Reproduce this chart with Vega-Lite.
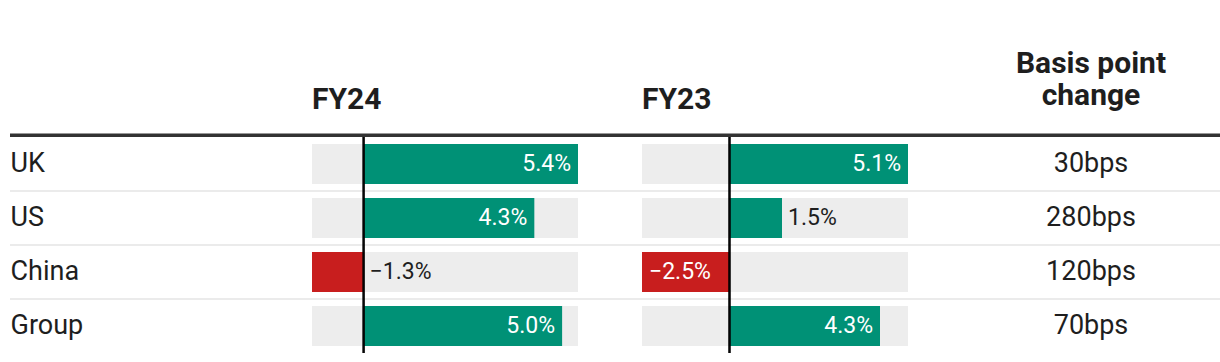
{
  "$schema": "https://vega.github.io/schema/vega-lite/v6.json",
  "background": "white",
  "padding": {"left": 8, "top": 48, "right": 0, "bottom": 0},
  "spacing": 0,
  "bounds": "flush",
  "config": {
    "view": {"stroke": null},
    "font": "Roboto",
    "title": {"font": "Roboto", "fontSize": 30, "fontWeight": "bold", "color": "#1e1e1e", "anchor": "start", "baseline": "alphabetic", "offset": 19, "frame": "group"},
    "text": {"font": "Roboto"}
  },
  "datasets": {
    "rows": [
      {"country": "UK", "fy24": 0.054, "fy23": 0.051, "bps": 30},
      {"country": "US", "fy24": 0.043, "fy23": 0.015, "bps": 280},
      {"country": "China", "fy24": -0.013, "fy23": -0.025, "bps": 120},
      {"country": "Group", "fy24": 0.050, "fy23": 0.043, "bps": 70}
    ]
  },
  "data": {"name": "rows"},
  "hconcat": [
    {
      "width": 302, "height": 216,
      "encoding": {
        "y": {"field": "country", "type": "nominal", "bandPosition": 0,
          "scale": {"domain": ["UK", "US", "China", "Group"], "paddingInner": 0.26, "paddingOuter": 0.13},
          "axis": {"orient": "left", "title": null, "domain": false, "ticks": false, "tickSize": 0, "labelPadding": 0, "labelAlign": "left", "labelBaseline": "middle", "labelFont": "Roboto", "labelFontSize": 27, "labelColor": "#1e1e1e", "labelLimit": 300, "grid": false}}
      },
      "layer": [
        {"transform": [{"filter": "datum.country === 'UK'"}], "mark": {"type": "rule", "color": "#333333", "strokeWidth": 3.5, "yOffset": -8.75}},
        {"transform": [{"filter": "datum.country !== 'UK'"}], "mark": {"type": "rule", "color": "#ebebeb", "strokeWidth": 2, "yOffset": -7}}
      ]
    },
    {
      "width": 266, "height": 216,
      "title": {"text": "FY24"},
      "layer": [
        {
          "transform": [{"joinaggregate": [{"op": "min", "field": "fy24", "as": "lo"}, {"op": "max", "field": "fy24", "as": "hi"}]}],
          "mark": {"type": "bar", "color": "#ededed"},
          "encoding": {
            "x": {"field": "lo", "type": "quantitative", "scale": {"nice": false, "zero": false}, "axis": null},
            "x2": {"field": "hi"},
            "y": {"field": "country", "type": "nominal", "scale": {"domain": ["UK", "US", "China", "Group"], "paddingInner": 0.26, "paddingOuter": 0.13}, "axis": null}
          }
        },
        {
          "mark": {"type": "bar"},
          "encoding": {
            "x": {"field": "fy24", "type": "quantitative"},
            "x2": {"datum": 0},
            "y": {"field": "country", "type": "nominal"},
            "color": {"condition": {"test": "datum.fy24 < 0", "value": "#c81e1e"}, "value": "#009176"}
          }
        },
        {"transform": [{"filter": "datum.country === 'UK'"}], "mark": {"type": "rule", "color": "#333333", "strokeWidth": 3.5, "yOffset": -8.75}, "encoding": {"y": {"field": "country", "type": "nominal", "bandPosition": 0}}},
        {"transform": [{"filter": "datum.country !== 'UK'"}], "mark": {"type": "rule", "color": "#ebebeb", "strokeWidth": 2, "yOffset": -7}, "encoding": {"y": {"field": "country", "type": "nominal", "bandPosition": 0}}},
        {"mark": {"type": "rule", "color": "black", "opacity": 0.6, "strokeWidth": 2}, "encoding": {"x": {"datum": 0}}},
        {
          "transform": [{"filter": "datum.fy24 >= 0.02"}],
          "mark": {"type": "text", "align": "right", "dx": -7, "fontSize": 23, "color": "white"},
          "encoding": {"x": {"field": "fy24", "type": "quantitative"}, "y": {"field": "country", "type": "nominal"}, "text": {"field": "fy24", "type": "quantitative", "format": ".1%"}}
        },
        {
          "transform": [{"filter": "datum.fy24 >= 0 && datum.fy24 < 0.02"}],
          "mark": {"type": "text", "align": "left", "dx": 6, "fontSize": 23, "color": "#1e1e1e"},
          "encoding": {"x": {"field": "fy24", "type": "quantitative"}, "y": {"field": "country", "type": "nominal"}, "text": {"field": "fy24", "type": "quantitative", "format": ".1%"}}
        },
        {
          "transform": [{"filter": "datum.fy24 < 0 && datum.fy24 > -0.02"}],
          "mark": {"type": "text", "align": "left", "dx": 6, "fontSize": 23, "color": "#1e1e1e"},
          "encoding": {"x": {"datum": 0}, "y": {"field": "country", "type": "nominal"}, "text": {"field": "fy24", "type": "quantitative", "format": ".1%"}}
        },
        {
          "transform": [{"filter": "datum.fy24 <= -0.02"}],
          "mark": {"type": "text", "align": "left", "dx": 7, "fontSize": 23, "color": "white"},
          "encoding": {"x": {"field": "fy24", "type": "quantitative"}, "y": {"field": "country", "type": "nominal"}, "text": {"field": "fy24", "type": "quantitative", "format": ".1%"}}
        }
      ]
    },
    {
      "width": 64, "height": 216,
      "encoding": {
        "y": {"field": "country", "type": "nominal", "bandPosition": 0, "scale": {"domain": ["UK", "US", "China", "Group"], "paddingInner": 0.26, "paddingOuter": 0.13}, "axis": null}
      },
      "layer": [
        {"transform": [{"filter": "datum.country === 'UK'"}], "mark": {"type": "rule", "color": "#333333", "strokeWidth": 3.5, "yOffset": -8.75}},
        {"transform": [{"filter": "datum.country !== 'UK'"}], "mark": {"type": "rule", "color": "#ebebeb", "strokeWidth": 2, "yOffset": -7}}
      ]
    },
    {
      "width": 266, "height": 216,
      "title": {"text": "FY23"},
      "layer": [
        {
          "transform": [{"joinaggregate": [{"op": "min", "field": "fy23", "as": "lo"}, {"op": "max", "field": "fy23", "as": "hi"}]}],
          "mark": {"type": "bar", "color": "#ededed"},
          "encoding": {
            "x": {"field": "lo", "type": "quantitative", "scale": {"nice": false, "zero": false}, "axis": null},
            "x2": {"field": "hi"},
            "y": {"field": "country", "type": "nominal", "scale": {"domain": ["UK", "US", "China", "Group"], "paddingInner": 0.26, "paddingOuter": 0.13}, "axis": null}
          }
        },
        {
          "mark": {"type": "bar"},
          "encoding": {
            "x": {"field": "fy23", "type": "quantitative"},
            "x2": {"datum": 0},
            "y": {"field": "country", "type": "nominal"},
            "color": {"condition": {"test": "datum.fy23 < 0", "value": "#c81e1e"}, "value": "#009176"}
          }
        },
        {"transform": [{"filter": "datum.country === 'UK'"}], "mark": {"type": "rule", "color": "#333333", "strokeWidth": 3.5, "yOffset": -8.75}, "encoding": {"y": {"field": "country", "type": "nominal", "bandPosition": 0}}},
        {"transform": [{"filter": "datum.country !== 'UK'"}], "mark": {"type": "rule", "color": "#ebebeb", "strokeWidth": 2, "yOffset": -7}, "encoding": {"y": {"field": "country", "type": "nominal", "bandPosition": 0}}},
        {"mark": {"type": "rule", "color": "black", "opacity": 0.6, "strokeWidth": 2}, "encoding": {"x": {"datum": 0}}},
        {
          "transform": [{"filter": "datum.fy23 >= 0.02"}],
          "mark": {"type": "text", "align": "right", "dx": -7, "fontSize": 23, "color": "white"},
          "encoding": {"x": {"field": "fy23", "type": "quantitative"}, "y": {"field": "country", "type": "nominal"}, "text": {"field": "fy23", "type": "quantitative", "format": ".1%"}}
        },
        {
          "transform": [{"filter": "datum.fy23 >= 0 && datum.fy23 < 0.02"}],
          "mark": {"type": "text", "align": "left", "dx": 6, "fontSize": 23, "color": "#1e1e1e"},
          "encoding": {"x": {"field": "fy23", "type": "quantitative"}, "y": {"field": "country", "type": "nominal"}, "text": {"field": "fy23", "type": "quantitative", "format": ".1%"}}
        },
        {
          "transform": [{"filter": "datum.fy23 < 0 && datum.fy23 > -0.02"}],
          "mark": {"type": "text", "align": "left", "dx": 6, "fontSize": 23, "color": "#1e1e1e"},
          "encoding": {"x": {"datum": 0}, "y": {"field": "country", "type": "nominal"}, "text": {"field": "fy23", "type": "quantitative", "format": ".1%"}}
        },
        {
          "transform": [{"filter": "datum.fy23 <= -0.02"}],
          "mark": {"type": "text", "align": "left", "dx": 7, "fontSize": 23, "color": "white"},
          "encoding": {"x": {"field": "fy23", "type": "quantitative"}, "y": {"field": "country", "type": "nominal"}, "text": {"field": "fy23", "type": "quantitative", "format": ".1%"}}
        }
      ]
    },
    {
      "width": 54, "height": 216,
      "encoding": {
        "y": {"field": "country", "type": "nominal", "bandPosition": 0, "scale": {"domain": ["UK", "US", "China", "Group"], "paddingInner": 0.26, "paddingOuter": 0.13}, "axis": null}
      },
      "layer": [
        {"transform": [{"filter": "datum.country === 'UK'"}], "mark": {"type": "rule", "color": "#333333", "strokeWidth": 3.5, "yOffset": -8.75}},
        {"transform": [{"filter": "datum.country !== 'UK'"}], "mark": {"type": "rule", "color": "#ebebeb", "strokeWidth": 2, "yOffset": -7}}
      ]
    },
    {
      "width": 258, "height": 216,
      "title": {"text": ["Basis point", "change"], "anchor": "middle", "lineHeight": 32, "offset": 23},
      "layer": [
        {"transform": [{"filter": "datum.country === 'UK'"}], "mark": {"type": "rule", "color": "#333333", "strokeWidth": 3.5, "yOffset": -8.75},
          "encoding": {"y": {"field": "country", "type": "nominal", "bandPosition": 0, "scale": {"domain": ["UK", "US", "China", "Group"], "paddingInner": 0.26, "paddingOuter": 0.13}, "axis": null}}},
        {"transform": [{"filter": "datum.country !== 'UK'"}], "mark": {"type": "rule", "color": "#ebebeb", "strokeWidth": 2, "yOffset": -7},
          "encoding": {"y": {"field": "country", "type": "nominal", "bandPosition": 0}}},
        {
          "transform": [{"calculate": "datum.bps + 'bps'", "as": "bpsLabel"}],
          "mark": {"type": "text", "align": "center", "fontSize": 27, "color": "#1e1e1e"},
          "encoding": {"y": {"field": "country", "type": "nominal"}, "text": {"field": "bpsLabel", "type": "nominal"}}
        }
      ]
    }
  ]
}
